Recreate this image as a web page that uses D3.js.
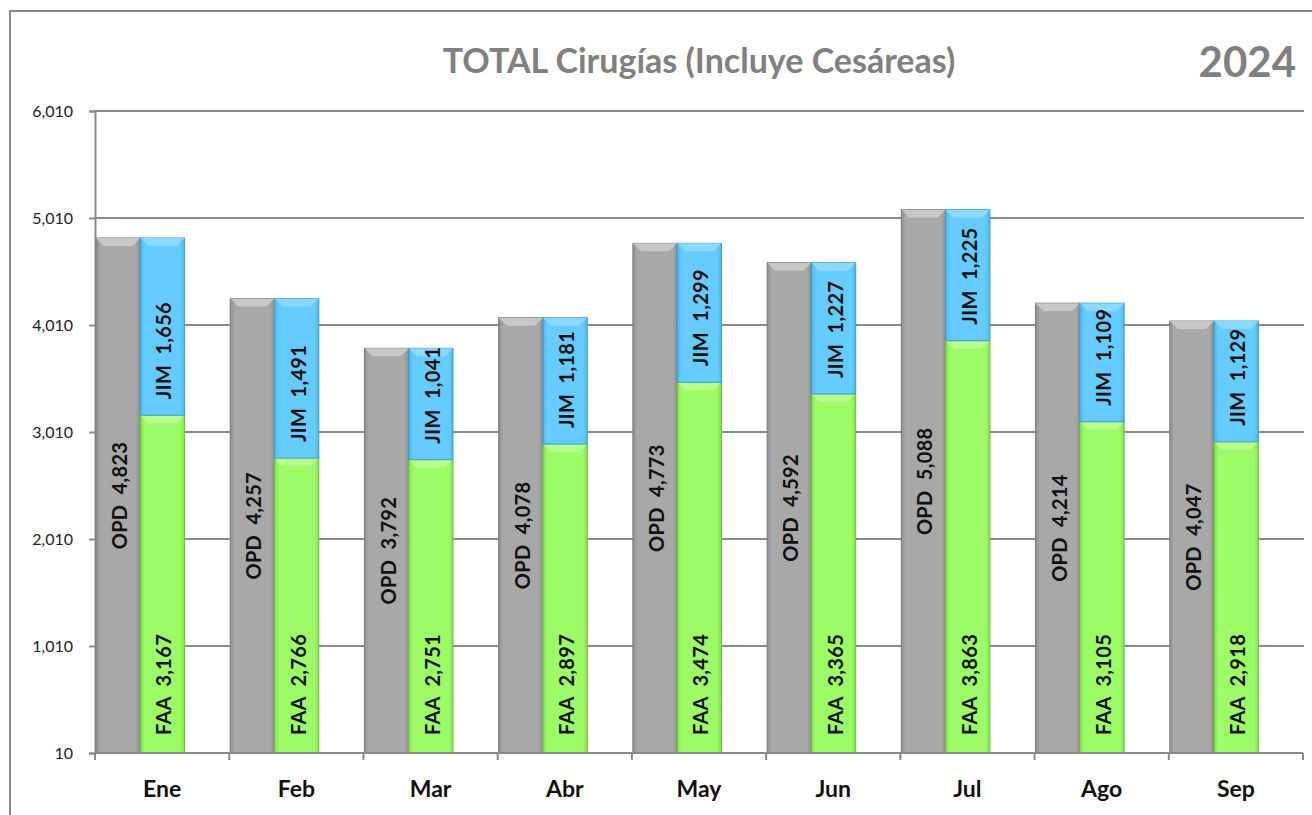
<!DOCTYPE html>
<html>
  <head>
    <title>TOTAL Cirugías 2024</title>
    <style>
      body { margin: 0; background: #fff; }
      text { font-family: Lato, "Open Sans", sans-serif; }
    </style>
  </head>
  <body>
    <script src="https://d3js.org/d3.v7.min.js"></script>
    <script>
      const months = ["Ene", "Feb", "Mar", "Abr", "May", "Jun", "Jul", "Ago", "Sep"];
      const opd = [4823, 4257, 3792, 4078, 4773, 4592, 5088, 4214, 4047];
      const faa = [3167, 2766, 2751, 2897, 3474, 3365, 3863, 3105, 2918];
      const jim = [1656, 1491, 1041, 1181, 1299, 1227, 1225, 1109, 1129];
      const yTicks = [10, 1010, 2010, 3010, 4010, 5010, 6010];

      const W = 1312, H = 815;
      const base = 10;

      const svg = d3.select("body").append("svg")
        .attr("width", W).attr("height", H);

      // outer frame (only top and left visible in the picture)
      svg.append("path")
        .attr("d", "M10,815 L10,11 L1312,11")
        .attr("fill", "none").attr("stroke", "#888").attr("stroke-width", 2);

      const x = d3.scaleBand().domain(months).range([95, 1303]);
      const y = d3.scaleLinear().domain([base, 6010]).range([753, 111]);
      const bw = x.bandwidth() * 0.33;

      // grid lines
      svg.append("g").selectAll("line")
        .data(yTicks.slice(1))
        .enter().append("line")
        .attr("x1", 95).attr("x2", 1304)
        .attr("y1", d => y(d)).attr("y2", d => y(d))
        .attr("stroke", "#8a8a8a").attr("stroke-width", 2);

      // y axis
      const yAxis = svg.append("g")
        .attr("transform", "translate(95,0)")
        .call(d3.axisLeft(y).tickValues(yTicks).tickSize(6).tickPadding(16).tickFormat(d3.format(",")));
      yAxis.select(".domain").attr("stroke", "#8a8a8a").attr("stroke-width", 2);
      yAxis.selectAll(".tick line").attr("stroke", "#8a8a8a").attr("stroke-width", 2);
      yAxis.selectAll(".tick text")
        .attr("font-size", 16).attr("fill", "#222")
        .style("font-family", "Lato, sans-serif");

      // shading for the bevelled bars
      const defs = svg.append("defs");
      const palettes = {
        gray: ["#8f8f8f", "#a8a8a8", "#a8a8a8", "#8f8f8f"],
        blue: ["#4cb8e8", "#66ccff", "#66ccff", "#4cb8e8"],
        green: ["#86e052", "#9dfb68", "#9dfb68", "#86e052"]
      };
      Object.keys(palettes).forEach(k => {
        const g = defs.append("linearGradient").attr("id", "g-" + k)
          .attr("x1", 0).attr("x2", 1).attr("y1", 0).attr("y2", 0);
        const c = palettes[k];
        [[0, c[0]], [0.1, c[1]], [0.9, c[2]], [1, c[3]]].forEach(s => {
          g.append("stop").attr("offset", s[0]).attr("stop-color", s[1]);
        });
      });
      const tops = { gray: "#d0d0d0", blue: "#96dcff", green: "#bfff96" };
      const edges = { gray: "#7a7a7a", blue: "#3a9ccc", green: "#6cbf3c" };

      const bevelBar = (g, x0, y0, y1, kind) => {
        const h = y1 - y0;
        g.append("rect")
          .attr("x", x0).attr("y", y0).attr("width", bw).attr("height", h)
          .attr("fill", "url(#g-" + kind + ")")
          .attr("stroke", edges[kind]).attr("stroke-width", 1);
        const b = Math.min(8, h / 2);
        g.append("path")
          .attr("d", `M${x0},${y0} L${x0 + bw},${y0} L${x0 + bw - b},${y0 + b} L${x0 + b},${y0 + b} Z`)
          .attr("fill", tops[kind]).attr("opacity", 0.8);
      };

      const bars = svg.append("g");
      months.forEach((m, i) => {
        const gx = x(m) + 1;
        const sx = gx + bw;
        bevelBar(bars, gx, y(opd[i]), y(base), "gray");
        bevelBar(bars, sx, y(faa[i]), y(base), "green");
        bevelBar(bars, sx, y(faa[i] + jim[i]), y(faa[i]), "blue");
      });

      // x axis
      const xAxis = svg.append("g").attr("transform", "translate(0,753)");
      xAxis.append("line").attr("x1", 95).attr("x2", 1303)
        .attr("stroke", "#8a8a8a").attr("stroke-width", 2);
      xAxis.selectAll("line.tk")
        .data(months.concat(["end"]))
        .enter().append("line").attr("class", "tk")
        .attr("x1", (d, i) => 95 + i * x.step()).attr("x2", (d, i) => 95 + i * x.step())
        .attr("y1", 0).attr("y2", 7)
        .attr("stroke", "#8a8a8a").attr("stroke-width", 2);
      xAxis.selectAll("text")
        .data(months)
        .enter().append("text")
        .attr("x", d => x(d) + x.bandwidth() / 2)
        .attr("y", 44)
        .attr("text-anchor", "middle")
        .attr("font-size", 23).attr("font-weight", "bold").attr("fill", "#111")
        .text(d => d);

      // data labels
      const fmt = d3.format(",");
      const gap = "\u00a0\u00a0";
      const labels = svg.append("g")
        .attr("font-size", 20).attr("fill", "#111")
        .attr("font-weight", "bold")
        .attr("letter-spacing", 0.3);
      months.forEach((m, i) => {
        const gx = x(m) + 1;
        const sx = gx + bw;
        const cy = (y(opd[i]) + y(base)) / 2;
        labels.append("text")
          .attr("transform", `translate(${gx + bw / 2 + 1},${cy}) rotate(-90)`)
          .attr("text-anchor", "middle").attr("dominant-baseline", "central")
          .text("OPD" + gap + fmt(opd[i]));
        labels.append("text")
          .attr("transform", `translate(${sx + bw / 2 + 1},${y(base) - 18}) rotate(-90)`)
          .attr("text-anchor", "start").attr("dominant-baseline", "central")
          .text("FAA" + gap + fmt(faa[i]));
        labels.append("text")
          .attr("transform", `translate(${sx + bw / 2 + 1},${y(faa[i]) - 16}) rotate(-90)`)
          .attr("text-anchor", "start").attr("dominant-baseline", "central")
          .text("JIM" + gap + fmt(jim[i]));
      });

      // titles
      svg.append("text")
        .attr("x", 699).attr("y", 73)
        .attr("text-anchor", "middle")
        .attr("font-size", 34).attr("font-weight", "bold").attr("fill", "#808080")
        .text("TOTAL Cirugías (Incluye Cesáreas)");
      svg.append("text")
        .attr("x", 1296).attr("y", 77)
        .attr("text-anchor", "end")
        .attr("font-size", 42).attr("font-weight", "bold").attr("fill", "#808080")
        .text("2024");
    </script>
  </body>
</html>
